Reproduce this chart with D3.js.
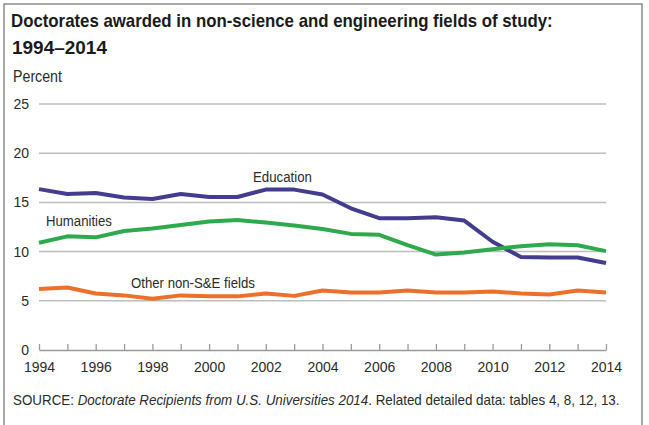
<!DOCTYPE html>
<html>
<head>
<meta charset="utf-8">
<script src="https://cdn.jsdelivr.net/npm/d3@7"></script>
<style>
  html, body { margin: 0; padding: 0; background: #fff; }
  svg { display: block; }
</style>
</head>
<body>
<svg id="chart" width="649" height="425"></svg>
<script>
// Share of doctorates by non-S&E field, 1994–2014 (percent)
const years = d3.range(1994, 2015);
const education = [16.35, 15.85, 15.95, 15.5, 15.35, 15.85, 15.55, 15.55, 16.3, 16.3, 15.8,
                   14.4, 13.4, 13.4, 13.5, 13.15, 11.0, 9.45, 9.4, 9.4, 8.85];
const humanities = [10.9, 11.55, 11.45, 12.1, 12.35, 12.7, 13.05, 13.2, 12.95, 12.65, 12.3,
                    11.8, 11.7, 10.65, 9.7, 9.9, 10.25, 10.55, 10.75, 10.65, 10.05];
const otherNonSE = [6.2, 6.35, 5.75, 5.55, 5.2, 5.55, 5.45, 5.45, 5.75, 5.5, 6.05,
                    5.85, 5.85, 6.05, 5.85, 5.85, 5.95, 5.75, 5.65, 6.05, 5.85];
const yTicks = [0, 5, 10, 15, 20, 25];
const xTickLabels = [1994, 1996, 1998, 2000, 2002, 2004, 2006, 2008, 2010, 2012, 2014];

const seriesNames = ["Education", "Humanities", "Other non-S&E fields"];
const seriesColors = ["#433c8f", "#2eaa4c", "#ec6f2a"];
const seriesValues = [education, humanities, otherNonSE];

const svg = d3.select("#chart");
const sans = "'Liberation Sans', Arial, sans-serif";

// Place a text and squeeze it horizontally to a given width (condensed look).
function fitText(parent, str, x, y, width, opts = {}) {
  const t = parent.append("text")
    .attr("font-family", sans)
    .attr("font-size", opts.size || 14)
    .attr("font-weight", opts.weight || "normal")
    .attr("fill", opts.fill || "#2b2b2b")
    .attr("text-anchor", opts.anchor || "start");
  if (Array.isArray(str)) {
    str.forEach(p => t.append("tspan").attr("font-style", p.italic ? "italic" : "normal").text(p.text));
  } else {
    t.text(str);
  }
  const w = t.node().getComputedTextLength();
  const s = width / w;
  t.attr("transform", `translate(${x},${y}) scale(${s},1)`);
  return t;
}

// frame
svg.append("path")
  .attr("d", "M4,425 V4 H642 V425")
  .attr("fill", "none").attr("stroke", "#8a8a8a").attr("stroke-width", 1.5);

// title
fitText(svg, "Doctorates awarded in non-science and engineering fields of study:", 11, 27, 542,
  { size: 18, weight: "bold", fill: "#1b1b1b" });
fitText(svg, "1994–2014", 12, 54, 95, { size: 18, weight: "bold", fill: "#1b1b1b" });
fitText(svg, "Percent", 13, 82, 49, { size: 16 });

const x = d3.scaleLinear().domain([1994, 2014]).range([39, 606]);
const y = d3.scaleLinear().domain([0, 25]).range([350, 104]);

// horizontal grid lines
svg.append("g")
  .selectAll("line")
  .data(yTicks.filter(d => d > 0))
  .join("line")
  .attr("x1", x(1994)).attr("x2", x(2014))
  .attr("y1", d => y(d)).attr("y2", d => y(d))
  .attr("stroke", "#bdbdbd").attr("stroke-width", 1.5);

// y axis labels
const yAxis = svg.append("g")
  .attr("transform", `translate(${x(1994)},0)`)
  .call(d3.axisLeft(y).tickValues(yTicks).tickSize(0).tickPadding(10));
yAxis.select(".domain").remove();
yAxis.selectAll("text")
  .attr("font-family", sans).attr("font-size", 14).attr("fill", "#2b2b2b");

// x axis: baseline with yearly ticks pointing up
const xAxis = svg.append("g")
  .attr("transform", `translate(0,${y(0)})`)
  .call(d3.axisTop(x).tickValues(years).tickSize(6).tickSizeOuter(0).tickFormat(""));
xAxis.select(".domain").attr("stroke", "#9a9a9a").attr("stroke-width", 1.3);
xAxis.selectAll(".tick line").attr("stroke", "#9a9a9a").attr("stroke-width", 1.3);

const xLabels = svg.append("g")
  .attr("transform", `translate(0,${y(0)})`)
  .call(d3.axisBottom(x).tickValues(xTickLabels).tickSize(0).tickPadding(12).tickFormat(d3.format("d")));
xLabels.select(".domain").remove();
xLabels.selectAll("text")
  .attr("font-family", sans).attr("font-size", 14).attr("fill", "#2b2b2b");

// series lines
const line = d3.line()
  .x((d, i) => x(years[i]))
  .y(d => y(d));

svg.append("g")
  .selectAll("path")
  .data(seriesValues)
  .join("path")
  .attr("d", line)
  .attr("fill", "none")
  .attr("stroke", (d, i) => seriesColors[i])
  .attr("stroke-width", 4)
  .attr("stroke-linejoin", "round")
  .attr("stroke-linecap", "butt");

// direct labels: [left x, baseline y, width]
const labelBoxes = [[253, 182, 59], [46, 226, 66], [131, 288, 124]];
const labels = svg.append("g");
seriesNames.forEach((name, i) => {
  const [lx, ly, lw] = labelBoxes[i];
  fitText(labels, name, lx, ly, lw, { size: 15 });
});

// source note
fitText(svg, [
  { text: "SOURCE: " },
  { text: "Doctorate Recipients from U.S. Universities 2014", italic: true },
  { text: ". Related detailed data: tables 4, 8, 12, 13." }
], 13, 405, 607, { size: 15 });
</script>
</body>
</html>
